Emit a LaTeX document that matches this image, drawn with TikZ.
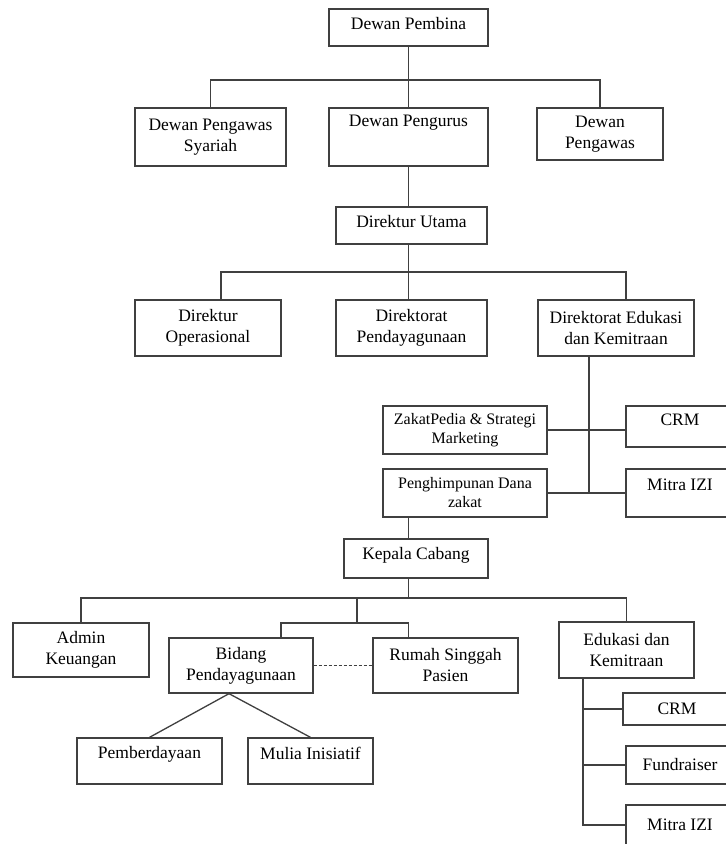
\documentclass[tikz,border=0pt]{standalone}
\usepackage{fontspec}
\setmainfont{Liberation Serif}
\usetikzlibrary{calc}

\begin{document}
\begin{tikzpicture}[x=1pt, y=-1pt,
    box/.style={rectangle, draw=black!75, line width=1.3pt, fill=white, inner sep=1pt,
                align=center, font=\fontsize{17.5}{21}\selectfont},
    sz/.style 2 args={minimum width=#1pt, minimum height=#2pt},
    lift/.style={text depth=#1pt},
    small/.style={font=\fontsize{16}{19}\selectfont},
    link/.style={draw=black!75, line width=1.3pt},
    aside/.style={link, line width=1pt, dash pattern=on 3pt off 2pt}
]
    \clip (0,0) rectangle (726,844);
    \fill[white] (0,0) rectangle (726,844);

    % Dewan
    \node[box, sz={159}{37}, lift=8]  (pembina)  at (408.5, 27.5) {Dewan Pembina};
    \node[box, sz={151}{58}]          (syariah)  at (210.5, 137)  {Dewan Pengawas\\Syariah};
    \node[box, sz={159}{58}, lift=32] (pengurus) at (408.5, 137)  {Dewan Pengurus};
    \node[box, sz={126}{52}]          (pengawas) at (600, 134)    {Dewan\\Pengawas};

    % Direksi
    \node[box, sz={151}{37}, lift=9]  (dirut)    at (411.5, 225.5) {Direktur Utama};
    \node[box, sz={146}{56}]          (dirops)   at (208, 328)     {Direktur\\Operasional};
    \node[box, sz={151}{56}]          (dirdaya)  at (411.5, 328)   {Direktorat\\Pendayagunaan};
    \node[box, sz={156}{56}]          (diredu)   at (616, 328)     {Direktorat Edukasi\\dan Kemitraan};

    \node[box, small, sz={164}{48}]   (zakatpedia) at (465, 430)   {ZakatPedia \& Strategi\\Marketing};
    \node[box, sz={108}{41}, lift=13] (crmA)       at (680, 426.5) {CRM};
    \node[box, small, sz={164}{48}]   (himpun)     at (465, 493)   {Penghimpunan Dana\\zakat};
    \node[box, sz={108}{48}, lift=16] (mitraA)     at (680, 493)   {Mitra IZI};

    % Cabang
    \node[box, sz={144}{39}, lift=11] (kacab)   at (416, 558.5)  {Kepala Cabang};
    \node[box, sz={136}{54}]          (admin)   at (81, 650)     {Admin\\Keuangan};
    \node[box, sz={144}{55}]          (bidang)  at (241, 665.5)  {Bidang\\Pendayagunaan};
    \node[box, sz={145}{55}]          (rumah)   at (445.5, 665.5) {Rumah Singgah\\Pasien};
    \node[box, sz={135}{56}]          (edukasi) at (626.5, 650)  {Edukasi dan\\Kemitraan};
    \node[box, sz={145}{46}, lift=17] (pemb)    at (149.5, 761)  {Pemberdayaan};
    \node[box, sz={125}{46}, lift=16] (mulia)   at (310.5, 761)  {Mulia Inisiatif};
    \node[box, sz={108}{32}]          (crmB)    at (677, 709)    {CRM};
    \node[box, sz={108}{38}]          (fund)    at (680, 765)    {Fundraiser};
    \node[box, sz={108}{40}]          (mitraB)  at (680, 825)    {Mitra IZI};

    \coordinate (busA) at (0, 80);
    \coordinate (busB) at (0, 272);
    \coordinate (busC) at (0, 598);
    \coordinate (busD) at (0, 623);
    \coordinate (opsDrop)  at ($(dirops.north)+(13,0)$);
    \coordinate (eduDrop)  at ($(diredu.north)+(10,0)$);
    \coordinate (eduSpine) at ($(diredu.south)+(-27,0)$);
    \coordinate (midDrop)  at (357, 598);
    \coordinate (bidDrop)  at ($(bidang.north)+(40,0)$);
    \coordinate (bidFoot)  at ($(bidang.south)+(-12,0)$);
    \coordinate (kemSpine) at ($(edukasi.south)+(-43.5,0)$);

    \draw[link] (pembina.south) -- (pembina.south |- busA);
    \draw[link] (syariah.north) |- (busA -| pengawas.north) -- (pengawas.north);
    \draw[link] (pengurus.north) -- (pengurus.north |- busA);
    \draw[link] (pengurus.south) -- (pengurus.south |- dirut.north);

    \draw[link] (dirut.south -| pembina) -- (busB -| pembina);
    \draw[link] (opsDrop) |- (busB -| eduDrop) -- (eduDrop);
    \draw[link] (dirdaya.north -| pembina) -- (busB -| pembina);

    \draw[link] (eduSpine) -- (eduSpine |- himpun.east);
    \draw[link] (zakatpedia.east) -- (zakatpedia.east -| crmA.west);
    \draw[link] (himpun.east) -- (himpun.east -| mitraA.west);

    \draw[link] (himpun.south -| pembina) -- (kacab.north -| pembina);
    \draw[link] (kacab.south -| pembina) -- (busC -| pembina);
    \draw[link] (admin.north) |- (busC -| edukasi.north) -- (edukasi.north);
    \draw[link] (midDrop) -- (midDrop |- busD);
    \draw[link] (bidDrop) |- (busD -| pembina) -- (rumah.north -| pembina);
    \draw[aside] (bidang.east) -- (rumah.west);
    \draw[link] (pemb.north) -- (bidFoot) -- (mulia.north);

    \draw[link] (kemSpine) |- (mitraB.west);
    \draw[link] (kemSpine |- crmB.west) -- (crmB.west);
    \draw[link] (kemSpine |- fund.west) -- (fund.west);
\end{tikzpicture}
\end{document}
